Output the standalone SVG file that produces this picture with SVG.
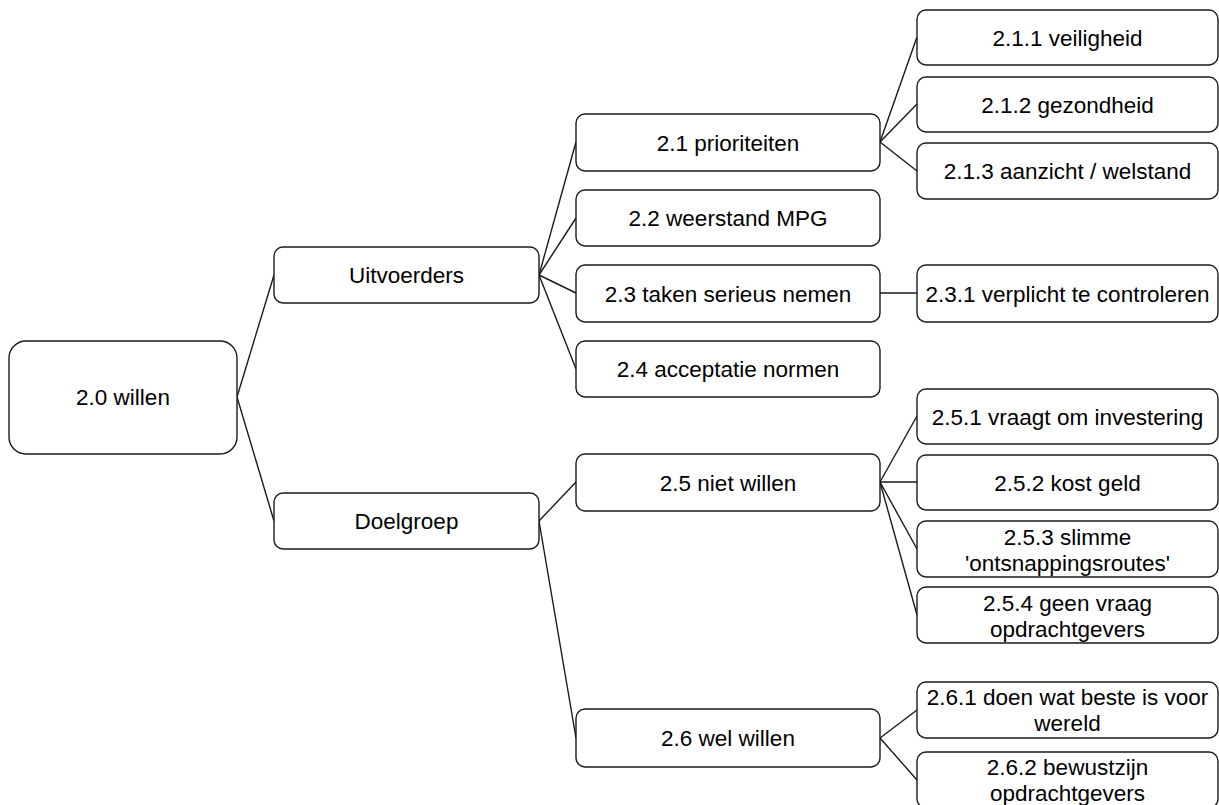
<svg xmlns="http://www.w3.org/2000/svg" width="1219" height="805" viewBox="0 0 1219 805">
  <style>
    .box { fill: #ffffff; stroke: #1a1a1a; stroke-width: 1.4; }
    .lbl { font-family: "Liberation Sans", Arial, Helvetica, sans-serif; font-size: 22.5px; fill: #000000; text-anchor: middle; }
    .edge { stroke: #1a1a1a; stroke-width: 1.4; fill: none; }
  </style>
  <rect x="0" y="0" width="1219" height="805" fill="#ffffff"/>

  <!-- connectors -->
  <g id="connectors">
    <line class="edge" x1="237" y1="397" x2="274" y2="275"/>
    <line class="edge" x1="237" y1="397" x2="274" y2="521"/>
    <line class="edge" x1="539" y1="275" x2="576" y2="142"/>
    <line class="edge" x1="539" y1="275" x2="576" y2="218"/>
    <line class="edge" x1="539" y1="275" x2="576" y2="293"/>
    <line class="edge" x1="539" y1="275" x2="576" y2="369"/>
    <line class="edge" x1="539" y1="521" x2="576" y2="482"/>
    <line class="edge" x1="539" y1="521" x2="576" y2="738"/>
    <line class="edge" x1="880" y1="142" x2="917" y2="37"/>
    <line class="edge" x1="880" y1="142" x2="917" y2="104"/>
    <line class="edge" x1="880" y1="142" x2="917" y2="171"/>
    <line class="edge" x1="880" y1="293" x2="917" y2="293"/>
    <line class="edge" x1="880" y1="482" x2="917" y2="416"/>
    <line class="edge" x1="880" y1="482" x2="917" y2="482"/>
    <line class="edge" x1="880" y1="482" x2="917" y2="549"/>
    <line class="edge" x1="880" y1="482" x2="917" y2="615"/>
    <line class="edge" x1="880" y1="738" x2="917" y2="710"/>
    <line class="edge" x1="880" y1="738" x2="917" y2="780"/>
  </g>

  <!-- root -->
  <g id="n20">
    <rect class="box" x="9" y="341" width="228" height="113" rx="17"/>
    <text class="lbl" x="123" y="405">2.0 willen</text>
  </g>

  <!-- level 1 -->
  <g id="uitvoerders">
    <rect class="box" x="274" y="247" width="265" height="56" rx="9"/>
    <text class="lbl" x="406.5" y="283">Uitvoerders</text>
  </g>
  <g id="doelgroep">
    <rect class="box" x="274" y="493" width="265" height="56" rx="9"/>
    <text class="lbl" x="406.5" y="529">Doelgroep</text>
  </g>

  <!-- level 2 -->
  <g id="n21">
    <rect class="box" x="576" y="114" width="304" height="57" rx="9"/>
    <text class="lbl" x="728" y="150.5">2.1 prioriteiten</text>
  </g>
  <g id="n22">
    <rect class="box" x="576" y="190" width="304" height="56" rx="9"/>
    <text class="lbl" x="728" y="226">2.2 weerstand MPG</text>
  </g>
  <g id="n23">
    <rect class="box" x="576" y="265" width="304" height="57" rx="9"/>
    <text class="lbl" x="728" y="301.5">2.3 taken serieus nemen</text>
  </g>
  <g id="n24">
    <rect class="box" x="576" y="341" width="304" height="56" rx="9"/>
    <text class="lbl" x="728" y="377">2.4 acceptatie normen</text>
  </g>
  <g id="n25">
    <rect class="box" x="576" y="454" width="304" height="57" rx="9"/>
    <text class="lbl" x="728" y="490.5">2.5 niet willen</text>
  </g>
  <g id="n26">
    <rect class="box" x="576" y="709" width="304" height="58" rx="9"/>
    <text class="lbl" x="728" y="746">2.6 wel willen</text>
  </g>

  <!-- level 3 -->
  <g id="n211">
    <rect class="box" x="917" y="10" width="301" height="55" rx="9"/>
    <text class="lbl" x="1067.5" y="45.5">2.1.1 veiligheid</text>
  </g>
  <g id="n212">
    <rect class="box" x="917" y="77" width="301" height="55" rx="9"/>
    <text class="lbl" x="1067.5" y="112.5">2.1.2 gezondheid</text>
  </g>
  <g id="n213">
    <rect class="box" x="917" y="143" width="301" height="56" rx="9"/>
    <text class="lbl" x="1067.5" y="179">2.1.3 aanzicht / welstand</text>
  </g>
  <g id="n231">
    <rect class="box" x="917" y="265" width="301" height="57" rx="9"/>
    <text class="lbl" x="1067.5" y="301.5">2.3.1 verplicht te controleren</text>
  </g>
  <g id="n251">
    <rect class="box" x="917" y="389" width="301" height="55" rx="9"/>
    <text class="lbl" x="1067.5" y="424.5">2.5.1 vraagt om investering</text>
  </g>
  <g id="n252">
    <rect class="box" x="917" y="455" width="301" height="55" rx="9"/>
    <text class="lbl" x="1067.5" y="490.5">2.5.2 kost geld</text>
  </g>
  <g id="n253">
    <rect class="box" x="917" y="521" width="301" height="56" rx="9"/>
    <text class="lbl" x="1067.5" y="545">2.5.3 slimme</text>
    <text class="lbl" x="1067.5" y="571">'ontsnappingsroutes'</text>
  </g>
  <g id="n254">
    <rect class="box" x="917" y="587" width="301" height="56" rx="9"/>
    <text class="lbl" x="1067.5" y="611">2.5.4 geen vraag</text>
    <text class="lbl" x="1067.5" y="637">opdrachtgevers</text>
  </g>
  <g id="n261">
    <rect class="box" x="917" y="682" width="301" height="56" rx="9"/>
    <text class="lbl" x="1067.5" y="705">2.6.1 doen wat beste is voor</text>
    <text class="lbl" x="1067.5" y="731">wereld</text>
  </g>
  <g id="n262">
    <rect class="box" x="917" y="752" width="301" height="56" rx="9"/>
    <text class="lbl" x="1067.5" y="775">2.6.2 bewustzijn</text>
    <text class="lbl" x="1067.5" y="801">opdrachtgevers</text>
  </g>
</svg>
